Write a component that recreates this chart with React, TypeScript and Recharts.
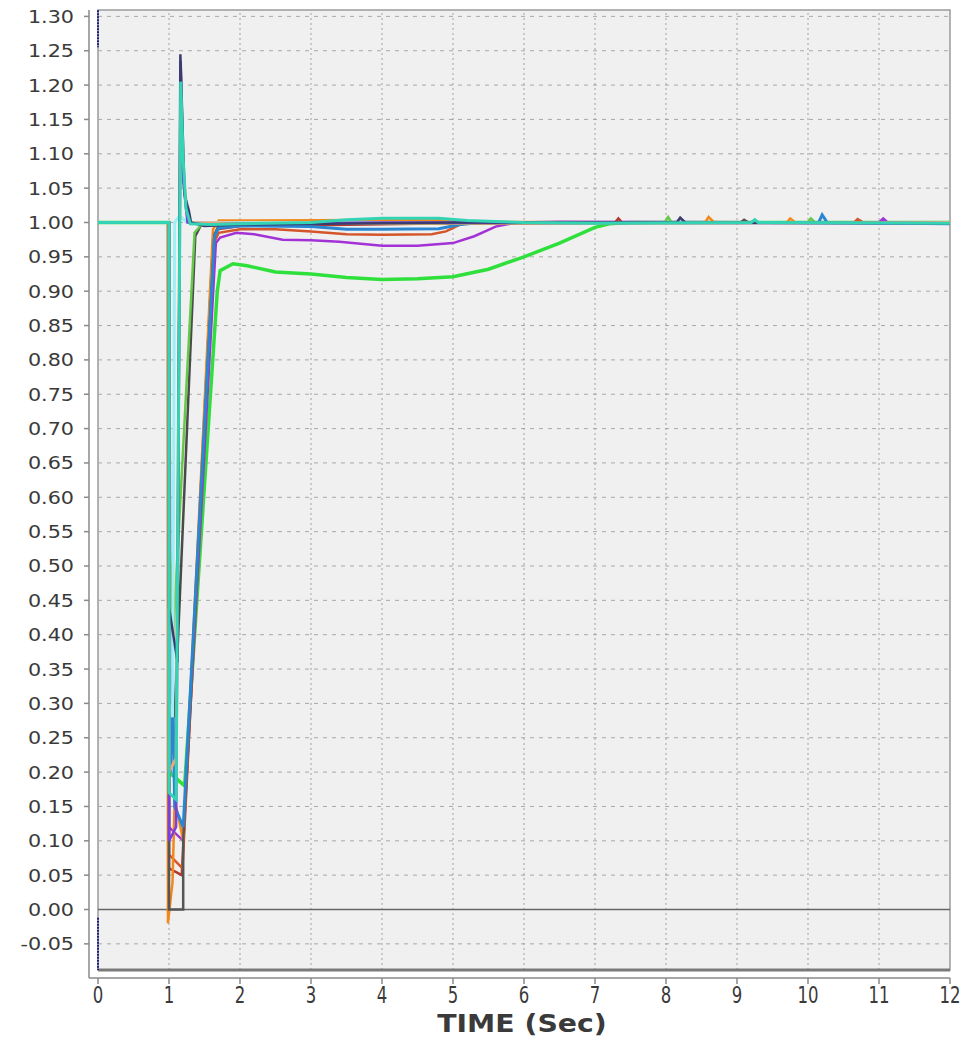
import React from 'react';
import { LineChart, Line, XAxis, YAxis, ReferenceLine, ReferenceArea } from 'recharts';

// time axis / voltage axis ticks
const xTicks = [0, 1, 2, 3, 4, 5, 6, 7, 8, 9, 10, 11, 12];
const yTicks = [
  -0.05, 0, 0.05, 0.1, 0.15, 0.2, 0.25, 0.3, 0.35, 0.4, 0.45, 0.5, 0.55, 0.6, 0.65,
  0.7, 0.75, 0.8, 0.85, 0.9, 0.95, 1.0, 1.05, 1.1, 1.15, 1.2, 1.25, 1.3,
];
const gridX = [1, 2, 3, 4, 5, 6, 7, 8, 9, 10, 11];

const X_MIN = -0.1268;
const Y_MIN = -0.0997;
const Y_MAX = 1.3093;
const BOX_BOTTOM = -0.088;

type Pt = [number, number | null];

// bus voltages (pu) vs time (s)
const initTrace: Pt[] = [[0, 1.309], [0, 1.255], [0, null], [0, -0.012], [0, BOX_BOTTOM]];
const greenBright: Pt[] = [
  [0, 1], [1, 1], [1.0, 0.2], [1.22, 0.18], [1.68, 0.9], [1.72, 0.93], [1.9, 0.94], [2.1, 0.937],
  [2.5, 0.928], [3, 0.925], [3.5, 0.92], [4, 0.917], [4.5, 0.918], [5, 0.921], [5.5, 0.932],
  [6, 0.95], [6.5, 0.97], [7, 0.993], [7.2, 0.998], [7.5, 1.0], [12, 1.0],
];
const purpleSlow: Pt[] = [
  [0, 1], [1, 1], [1.0, 0.12], [1.2, 0.1], [1.66, 0.97], [1.72, 0.978], [1.95, 0.985], [2.2, 0.983],
  [2.6, 0.975], [3, 0.974], [3.4, 0.972], [4, 0.966], [4.5, 0.966], [5, 0.97], [5.3, 0.98],
  [5.6, 0.994], [5.9, 1.0], [6.5, 1.001], [11.0, 1.0], [11.06, 1.006], [11.12, 1.0], [12, 1.0],
];
const darkRed: Pt[] = [
  [0, 1], [1, 1], [1.0, 0.06], [1.18, 0.05], [1.62, 0.975], [1.68, 0.99], [2, 0.995], [3, 0.996],
  [5, 0.999], [7.28, 1.0], [7.33, 1.006], [7.38, 1.0], [12, 1.0],
];
const redOrange: Pt[] = [
  [0, 1], [1, 1], [1.0, 0.08], [1.19, 0.06], [1.63, 0.97], [1.7, 0.985], [2, 0.99], [2.5, 0.99],
  [3, 0.987], [3.5, 0.983], [4, 0.982], [4.7, 0.983], [4.9, 0.987], [5.1, 0.997], [5.3, 1.0],
  [10.65, 1.0], [10.7, 1.005], [10.78, 1.0], [11.5, 1.0], [12, 1.0],
];
const orange: Pt[] = [
  [0, 1], [0.98, 1], [0.985, -0.02], [1.05, 0.04], [1.08, 0.16], [1.2, 0.1], [1.62, 0.99],
  [1.7, 1.003], [2, 1.003], [4.8, 1.004], [5.2, 1.001], [8.55, 1.0], [8.6, 1.008], [8.68, 1.0],
  [9.7, 1.0], [9.75, 1.006], [9.82, 1.0], [12, 1.0],
];
const blue: Pt[] = [
  [0, 1], [1, 1], [1.02, 0.2], [1.05, 0.35], [1.08, 0.15], [1.2, 0.12], [1.64, 0.98], [1.7, 0.992],
  [2, 0.995], [3, 0.994], [3.5, 0.99], [4, 0.99], [4.8, 0.991], [5.1, 0.997], [5.4, 1.0],
  [10.15, 1.0], [10.2, 1.011], [10.27, 1.0], [12, 0.998],
];
const darkGrey: Pt[] = [
  [0, 1], [1, 1], [1.0, 0.0], [1.2, 0.0], [1.2, 0.1], [1.64, 0.982], [1.7, 0.996], [2, 0.998],
  [9.05, 1.0], [9.1, 1.004], [9.16, 1.0], [12, 1.0],
];
const slate: Pt[] = [
  [0, 1], [1, 1], [1.0, 0.3], [1.08, 0.28], [1.37, 0.98], [1.45, 0.996], [2, 0.999], [12, 1.0],
];
const green2: Pt[] = [
  [0, 1], [1, 1], [1.0, 0.55], [1.06, 0.4], [1.36, 0.985], [1.45, 0.996], [2, 0.998],
  [7.98, 1.0], [8.03, 1.008], [8.08, 1.0], [10.0, 1.0], [10.04, 1.006], [10.1, 1.0], [12, 1.0],
];
const lightCyan: Pt[] = [
  [0, 1], [1, 1], [1.0, 0.3], [1.05, 0.28], [1.08, 1.0], [1.15, 1.01], [1.25, 1.0], [12, 1.0],
];
const salmon: Pt[] = [
  [0, 1], [1, 1], [1.0, 0.2], [1.1, 0.22], [1.165, 1.215], [1.2, 1.07], [1.27, 1.0], [2, 0.999], [12, 1.0],
];
const violet: Pt[] = [
  [0, 1], [1, 1], [1.0, 0.1], [1.1, 0.12], [1.165, 1.235], [1.2, 1.06], [1.26, 1.0], [1.5, 0.997],
  [2, 0.998], [4, 1.0], [12, 0.999],
];
const navy: Pt[] = [
  [0, 1], [1, 1], [1.0, 0.44], [1.12, 0.36], [1.16, 1.245], [1.22, 1.04], [1.28, 1.017], [1.31, 1.0],
  [1.5, 0.995], [2, 0.997], [5, 1.0], [8.15, 1.0], [8.2, 1.007], [8.27, 1.0], [12, 0.999],
];
const teal: Pt[] = [
  [0, 1], [1, 1], [1.0, 0.17], [1.1, 0.16], [1.165, 1.205], [1.2, 1.09], [1.24, 1.02], [1.3, 0.998],
  [1.6, 0.997], [2, 0.998], [3, 1.0], [3.5, 1.004], [4, 1.006], [4.8, 1.006], [5.2, 1.003],
  [6, 1.0], [7, 0.999], [9.2, 1.0], [9.25, 1.004], [9.3, 1.0], [12, 0.999],
];

const series = [
  { name: 'greenBright', data: greenBright, color: '#2fe03c', width: 3.5 },
  { name: 'purpleSlow', data: purpleSlow, color: '#a332d6', width: 2.5 },
  { name: 'darkRed', data: darkRed, color: '#b0392e', width: 2.5 },
  { name: 'redOrange', data: redOrange, color: '#d4552a', width: 2.5 },
  { name: 'orange', data: orange, color: '#f2881c', width: 2.5 },
  { name: 'darkGrey', data: darkGrey, color: '#555555', width: 2.5 },
  { name: 'blue', data: blue, color: '#2a86d2', width: 3 },
  { name: 'slate', data: slate, color: '#4a4a4a', width: 2.5 },
  { name: 'green2', data: green2, color: '#66c84a', width: 2.5 },
  { name: 'lightCyan', data: lightCyan, color: '#9ff0f6', width: 3 },
  { name: 'salmon', data: salmon, color: '#f5a27c', width: 3 },
  { name: 'violet', data: violet, color: '#7a3fe0', width: 2.5 },
  { name: 'navy', data: navy, color: '#3b3b70', width: 2.5 },
  { name: 'teal', data: teal, color: '#33d4b4', width: 3 },
];

const toPts = (arr: Pt[]) => arr.map(([t, v]) => ({ t, v }));

const FONT = '"DejaVu Sans", Verdana, sans-serif';

const YTick = (props: any) => {
  const { x, y, payload } = props;
  return (
    <text
      x={x}
      y={y}
      dy="0.36em"
      textAnchor="end"
      fontFamily={FONT}
      fontSize={18}
      fill="#3a3a3a"
      transform={`translate(${x},0) scale(1.15,1) translate(${-x},0)`}
    >
      {payload.value.toFixed(2)}
    </text>
  );
};

const XTick = (props: any) => {
  const { x, y, payload } = props;
  return (
    <text
      x={x}
      y={y}
      dy="0.72em"
      textAnchor="middle"
      fontFamily={FONT}
      fontSize={23}
      fill="#3a3a3a"
      transform={`translate(${x},0) scale(0.72,1) translate(${-x},0)`}
    >
      {payload.value}
    </text>
  );
};

export default function App() {
  return (
    <div style={{ position: 'absolute', left: 0, top: 0, width: 978, height: 1040, background: '#fff' }}>
      <LineChart width={978} height={1040} margin={{ top: 10, right: 28, bottom: 5, left: 0 }}>
        <XAxis
          dataKey="t"
          type="number"
          domain={[X_MIN, 12]}
          ticks={xTicks}
          allowDataOverflow
          stroke="#8a8a8a"
          strokeWidth={1.5}
          tickSize={6}
          tickMargin={2}
          height={57}
          tick={<XTick />}
        />
        <YAxis
          type="number"
          domain={[Y_MIN, Y_MAX]}
          ticks={yTicks}
          allowDataOverflow
          width={89}
          stroke="#8a8a8a"
          strokeWidth={1.5}
          tickSize={5}
          tickMargin={10}
          tick={<YTick />}
        />
        <ReferenceArea x1={0} x2={12} y1={BOX_BOTTOM} y2={Y_MAX} fill="#f0f0f0" fillOpacity={1} stroke="#9a9a9a" strokeWidth={1.5} />
        {yTicks.map((v) => (
          <ReferenceLine
            key={`h${v}`}
            segment={[{ x: 0, y: v }, { x: 12, y: v }]}
            stroke="#a8a8a8"
            strokeDasharray="4 5"
          />
        ))}
        {gridX.map((t) => (
          <ReferenceLine
            key={`v${t}`}
            segment={[{ x: t, y: BOX_BOTTOM }, { x: t, y: Y_MAX }]}
            stroke="#a0a0a0"
            strokeDasharray="2 3"
          />
        ))}
        <ReferenceLine segment={[{ x: 0, y: 0 }, { x: 12, y: 0 }]} stroke="#666" strokeWidth={1.5} />
        <ReferenceLine segment={[{ x: 0, y: BOX_BOTTOM }, { x: 12, y: BOX_BOTTOM }]} stroke="#7a7a7a" strokeWidth={3} />
        <Line
          data={toPts(initTrace)}
          dataKey="v"
          stroke="#1c1c80"
          strokeWidth={2}
          strokeDasharray="2 1"
          dot={false}
          isAnimationActive={false}
        />
        {series.map((s) => (
          <Line
            key={s.name}
            data={toPts(s.data)}
            dataKey="v"
            name={s.name}
            stroke={s.color}
            strokeWidth={s.width}
            dot={false}
            type="linear"
            isAnimationActive={false}
          />
        ))}
      </LineChart>
      <div
        style={{
          position: 'absolute',
          left: 0,
          width: 1044,
          top: 1010,
          textAlign: 'center',
          fontFamily: FONT,
          fontWeight: 'bold',
          fontSize: 24,
          color: '#3a3a3a',
          transform: 'scaleX(1.18)',
          transformOrigin: '522px 0',
        }}
      >
        TIME (Sec)
      </div>
    </div>
  );
}
